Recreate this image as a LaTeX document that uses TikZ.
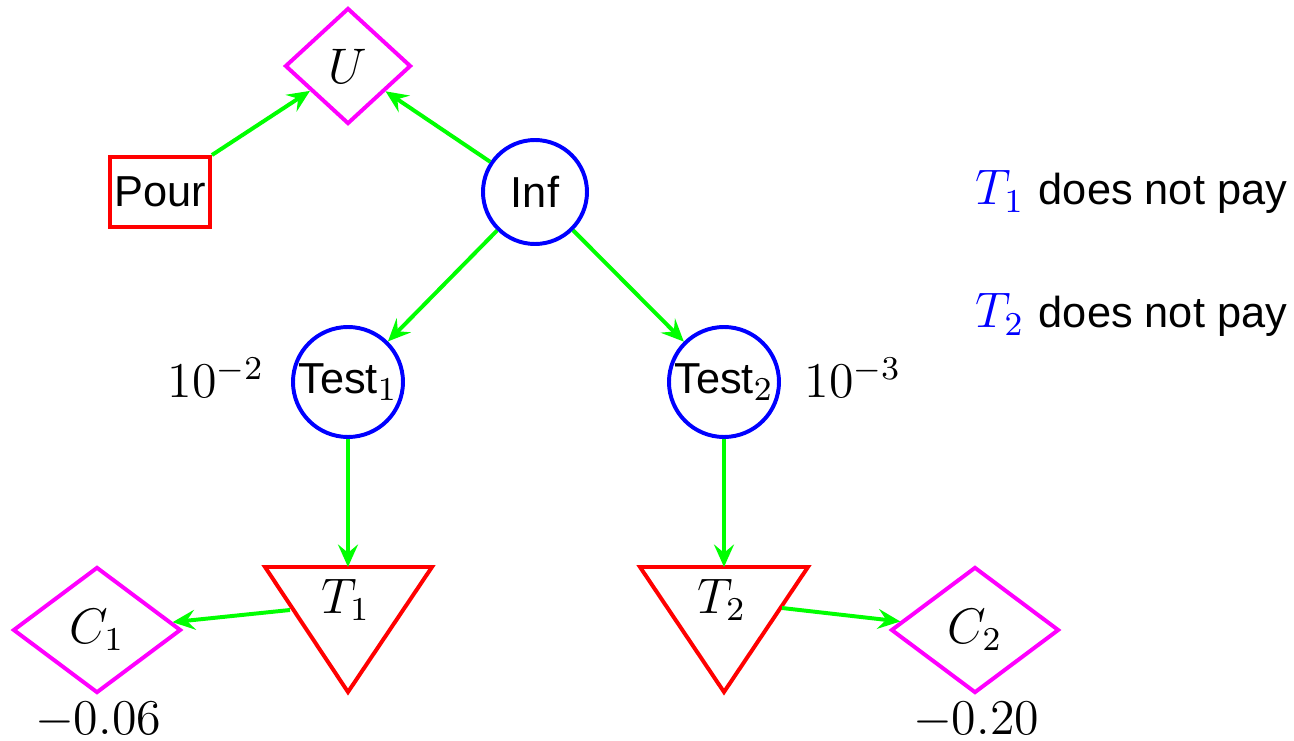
\documentclass[tikz,border=0pt]{standalone}
\usepackage{fontspec}
\setsansfont{Liberation Sans}
\usetikzlibrary{shapes.geometric,arrows.meta}
\definecolor{mag}{RGB}{255,0,255}
\definecolor{grn}{RGB}{0,255,0}
\definecolor{blu}{RGB}{0,0,255}
\definecolor{rd}{RGB}{255,0,0}
\newcommand{\mth}{\fontsize{12}{14}\selectfont}
\newcommand{\txt}{\fontsize{10.4}{12}\selectfont\sffamily}
\begin{document}
\begin{tikzpicture}[x=0.24pt,y=-0.24pt,
  font=\mth,
  util/.style={diamond,draw=mag,line width=0.95pt,inner sep=0pt},
  chance/.style={circle,draw=blu,line width=0.95pt,inner sep=0pt,font=\txt},
  decis/.style={rectangle,draw=rd,line width=0.95pt,inner sep=0pt,font=\txt},
  tri/.style={draw=rd,line width=0.95pt,line join=miter},
  arc/.style={draw=grn,line width=0.95pt,-{Stealth[length=5.4pt,width=4.8pt,inset=2pt]}},
  lbl/.style={inner sep=0pt},
  note/.style={inner sep=0pt,anchor=west,font=\txt}]
\useasboundingbox (0,0) rectangle (1294,741);
% nodes
\node[util,minimum width=30.24pt,minimum height=27.84pt] (U) at (348,66) {$U$};
\node[decis,minimum width=24pt,minimum height=16.8pt] (Pour) at (160,192) {Pour};
\node[chance,minimum size=24.96pt] (Inf) at (535,192) {Inf};
\node[chance,minimum size=26.4pt] (Test1) at (348,382) {Test{\mth$_1$}};
\node[chance,minimum size=26.4pt] (Test2) at (724,382) {Test{\mth$_2$}};
% triangles
\coordinate (T1a) at (265,567);
\coordinate (T1b) at (432,567);
\coordinate (T1c) at (348,692);
\coordinate (T1top) at (348,567);
\coordinate (T1l) at (290,610);
\draw[tri] (T1a) -- (T1b) -- (T1c) -- cycle;
\node[lbl] (T1) at (346,600) {$T_1$};
\coordinate (T2a) at (640,567);
\coordinate (T2b) at (808,567);
\coordinate (T2c) at (724,692);
\coordinate (T2top) at (724,567);
\coordinate (T2r) at (782,608);
\draw[tri] (T2a) -- (T2b) -- (T2c) -- cycle;
\node[lbl] (T2) at (722,600) {$T_2$};
\node[util,minimum width=40.32pt,minimum height=30.24pt] (C1) at (97,630) {$C_1$};
\node[util,minimum width=40.32pt,minimum height=30.24pt] (C2) at (975,630) {$C_2$};
% labels
\node[lbl] (p1) at (216,378) {$10^{-2}$};
\node[lbl] (p2) at (853,378) {$10^{-3}$};
\node[lbl] (v1) at (98,720) {$-0.06$};
\node[lbl] (v2) at (976,720) {$-0.20$};
\node[note] (n1) at (975,192) {{\mth$\color{blu}T_1$}\hspace{3.5pt}does not pay};
\node[note] (n2) at (975,315) {{\mth$\color{blu}T_2$}\hspace{3.5pt}does not pay};
% arcs
\draw[arc] (Pour.north east) -- (U);
\draw[arc] (Inf) -- (U);
\draw[arc] (Inf) -- (Test1);
\draw[arc] (Inf) -- (Test2);
\draw[arc] (Test1) -- (T1top);
\draw[arc] (Test2) -- (T2top);
\draw[arc] (T1l) -- (C1);
\draw[arc] (T2r) -- (C2);
\end{tikzpicture}
\end{document}
